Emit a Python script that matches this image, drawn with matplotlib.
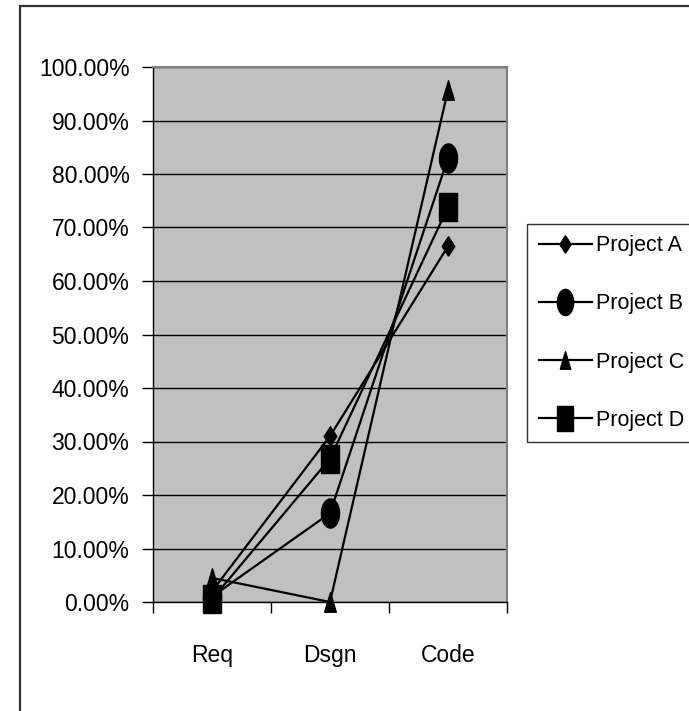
import numpy as np
import matplotlib.pyplot as plt
from matplotlib.path import Path
from matplotlib.patches import Rectangle
from matplotlib.ticker import FuncFormatter

stages = ['Req', 'Dsgn', 'Code']
project_a = [0.02, 0.31, 0.665]
project_b = [0.01, 0.166, 0.83]
project_c = [0.045, 0.0, 0.957]
project_d = [0.005, 0.268, 0.738]
names = ['Project A', 'Project B', 'Project C', 'Project D']

plt.rcParams['font.family'] = ['Liberation Sans', 'DejaVu Sans']

# markers in the original are stretched vertically
t = np.linspace(0, 2 * np.pi, 40)
ellipse = Path(np.column_stack([np.cos(t) * 0.62, np.sin(t)]))
tall_square = Path([(-0.64, -1), (0.64, -1), (0.64, 1), (-0.64, 1), (-0.64, -1)])
tall_diamond = Path([(0, -1), (0.65, 0), (0, 1), (-0.65, 0), (0, -1)])
tall_triangle = Path([(-0.6, -1), (0.6, -1), (0, 1), (-0.6, -1)])

styles = [(tall_diamond, 14), (ellipse, 21), (tall_triangle, 14), (tall_square, 20)]

fig = plt.figure(figsize=(6.89, 7.11), dpi=100)
ax = fig.add_axes([153 / 689, 109 / 711, 354 / 689, 535 / 711])
ax.set_facecolor('#C0C0C0')

x = np.arange(len(stages))
for vals, name, (m, ms) in zip([project_a, project_b, project_c, project_d], names, styles):
    ax.plot(x, vals, color='black', lw=1.6, marker=m, markersize=ms,
            markerfacecolor='black', markeredgecolor='black', label=name, clip_on=False, zorder=3)

ax.set_xlim(-0.5, 2.5)
ax.set_ylim(0, 1)
ax.set_yticks(np.arange(0, 1.01, 0.1))
ax.yaxis.set_major_formatter(FuncFormatter(lambda v, p: '{:.2f}%'.format(v * 100)))
ax.yaxis.grid(True, color='black', lw=1)
ax.set_axisbelow(True)
ax.tick_params(axis='y', length=8, width=1, direction='out', labelsize=16.5, pad=9)

ax.set_xticks([-0.5, 0.5, 1.5, 2.5])
ax.set_xticklabels([])
ax.set_xticks(x, minor=True)
ax.set_xticklabels(stages, minor=True)
ax.tick_params(axis='x', which='major', length=8, width=1, direction='out')
ax.tick_params(axis='x', which='minor', length=0, labelsize=16.5, pad=30)

for s in ['top', 'right']:
    ax.spines[s].set_color('#808080')
    ax.spines[s].set_linewidth(1.5)
for s in ['left', 'bottom']:
    ax.spines[s].set_color('black')
    ax.spines[s].set_linewidth(1)

leg = fig.legend(loc='center left', bbox_to_anchor=(527 / 689, 378 / 711), fontsize=15.5,
                 frameon=True, fancybox=False, edgecolor='black', handlelength=2.45,
                 handletextpad=0.2, labelspacing=1.72, borderpad=0.55, borderaxespad=0,
                 markerscale=0.9)
leg.get_frame().set_linewidth(1)

fig.patches.append(Rectangle((20 / 689, -0.1), 1.2, (705 / 711) + 0.1, transform=fig.transFigure,
                             fill=False, edgecolor='#333333', lw=1.6))

fig.savefig('out.png', dpi=100)
